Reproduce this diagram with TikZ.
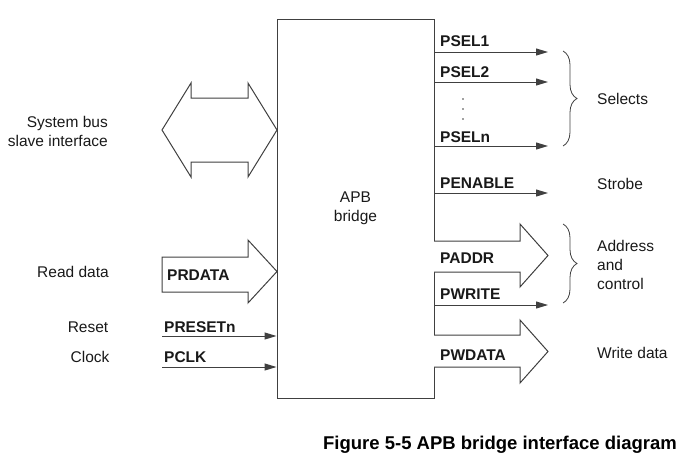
\documentclass[tikz,border=0pt]{standalone}
\usepackage{fontspec}
\setmainfont{Liberation Sans}
\usetikzlibrary{arrows.meta,decorations.pathreplacing}
\begin{document}
\begin{tikzpicture}[x=1pt,y=-1pt,
  line/.style={draw=black!75, line width=1pt},
  sig/.style={line, -{Triangle[length=12pt,width=7pt]}},
  lab/.style={font=\fontsize{15.5}{19}\selectfont, text=black!90, inner sep=0pt},
  blab/.style={font=\fontsize{15.5}{19}\selectfont\bfseries, text=black!90, inner sep=0pt},
  bus/.style={line, fill=white, line join=miter},
  brc/.style={draw=black!75, line width=0.8pt, decorate, decoration={brace, amplitude=14pt}},
  dotc/.style={fill=black!75}]
\useasboundingbox (0,0) rectangle (690,461);

% bridge box
\node[line, lab, minimum width=157pt, minimum height=379pt, align=center] (apb) at (355.5,208.5) {APB\\bridge};

% system bus double arrow
\draw[bus] (162,130) -- (191,83) -- (191,98) -- (248,98) -- (248,83) -- (277,130)
  -- (248,177) -- (248,162) -- (191,162) -- (191,177) -- cycle;
\node[lab, align=right, anchor=east] (sysbus) at (108,131) {System bus\\slave interface};

% read data bus
\draw[bus] (162,257) -- (248,257) -- (248,240) -- (277,271.5) -- (248,303) -- (248,292) -- (162,292) -- cycle;
\node[lab, anchor=center] (rd) at (73,272) {Read data};
\node[blab, anchor=west] (prdata) at (167,275) {PRDATA};

% reset and clock
\coordinate (rst) at (162,336);
\coordinate (clk) at (162,367);
\draw[sig] (rst) -- (rst -| apb.west);
\draw[sig] (clk) -- (clk -| apb.west);
\node[blab, anchor=west] (presetn) at (164,327) {PRESETn};
\node[blab, anchor=west] (pclk) at (164,357) {PCLK};
\node[lab, anchor=center] (reset) at (88,327) {Reset};
\node[lab, anchor=center] (clock) at (90,357) {Clock};

% select outputs
\coordinate (e1) at (548,52);
\coordinate (e2) at (548,82);
\coordinate (en) at (548,146);
\coordinate (ee) at (548,193);
\coordinate (ew) at (548,305);
\draw[sig] (apb.east |- e1) -- (e1);
\draw[sig] (apb.east |- e2) -- (e2);
\draw[sig] (apb.east |- en) -- (en);
\draw[sig] (apb.east |- ee) -- (ee);
\draw[sig] (apb.east |- ew) -- (ew);
\node[blab, anchor=west] (psel1) at (440,41) {PSEL1};
\node[blab, anchor=west] (psel2) at (440,72) {PSEL2};
\node[blab, anchor=west] (pseln) at (440,137) {PSELn};
\node[blab, anchor=west] (penable) at (440,183) {PENABLE};
\node[blab, anchor=west] (pwrite) at (440,294) {PWRITE};
\fill[dotc] (463,99) circle (0.8);
\fill[dotc] (463,109) circle (0.8);
\fill[dotc] (463,119) circle (0.8);

% address bus
\draw[bus] (434,241) -- (520,241) -- (520,224) -- (548,255.5) -- (520,287) -- (520,272) -- (434,272);
\node[blab, anchor=west] (paddr) at (440,258) {PADDR};

% write data bus
\draw[bus] (434,335) -- (520,335) -- (520,320) -- (548,351.5) -- (520,383) -- (520,367) -- (434,367);
\node[blab, anchor=west] (pwdata) at (440,355) {PWDATA};

% braces
\draw[brc] (563,51) -- (563,146);
\draw[brc] (563,224) -- (563,303);

% right labels
\node[lab, anchor=west] (selects) at (597,99) {Selects};
\node[lab, anchor=west] (strobe) at (597,184) {Strobe};
\node[lab, anchor=west, align=left] (addr) at (597,265) {Address\\and\\control};
\node[lab, anchor=west] (wdata) at (597,353) {Write data};

% caption
\node[font=\fontsize{18.5}{22}\selectfont\bfseries, text=black, inner sep=0pt] (cap) at (500,445) {Figure 5-5 APB bridge interface diagram};
\end{tikzpicture}
\end{document}
